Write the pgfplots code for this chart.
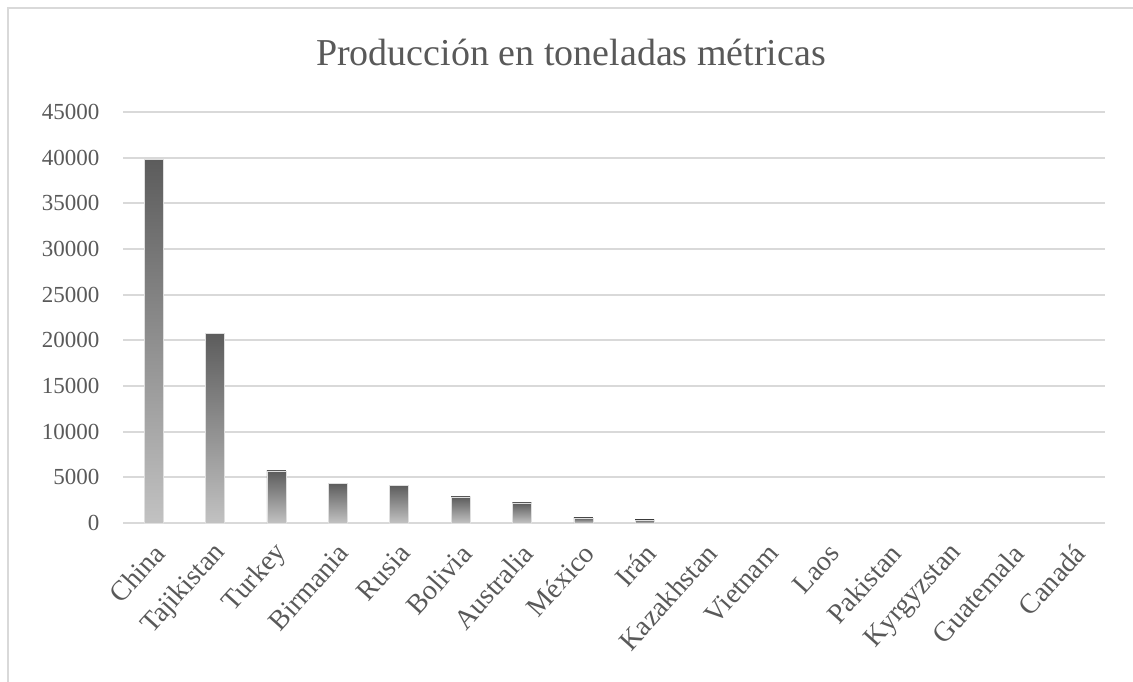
\documentclass[border=0pt]{standalone}
\usepackage{pgfplots}
\pgfplotsset{compat=1.18}
\usepackage{fontspec}
\setmainfont{Liberation Serif}
\definecolor{txt}{HTML}{595959}
\definecolor{gridc}{HTML}{D9D9D9}
\definecolor{bartop}{HTML}{5C5C5C}
\definecolor{barbot}{HTML}{C2C2C2}
\pgfplotsset{gbar/.style={ybar, bar width=19pt, bar shift=0pt, draw=gray!25, line width=0.6pt, top color=bartop, bottom color=barbot, forget plot}}
\begin{document}
\begin{tikzpicture}[x=1pt,y=1pt]
\useasboundingbox (0,0) rectangle (1133,-681);
\draw[gridc, line width=2pt] (8,-760) -- (8,-8) -- (1160,-8);
\node[font=\fontsize{38}{44}\selectfont, text=txt, anchor=base] at (571,-65) {Producción en toneladas métricas};
\begin{axis}[
  at={(123pt,-523pt)}, anchor=south west,
  scale only axis, width=982pt, height=411pt,
  xmin=-0.5, xmax=15.5, ymin=0, ymax=45000,
  ytick={0,5000,...,45000},
  xtick={0,...,15},
  xticklabels={China,Tajikistan,Turkey,Birmania,Rusia,Bolivia,Australia,México,Irán,Kazakhstan,Vietnam,Laos,Pakistan,Kyrgyzstan,Guatemala,Canadá},
  axis line style={draw=none},
  tick style={draw=none},
  major tick length=0pt,
  ymajorgrids,
  grid style={gridc, line width=1.8pt},
  scaled y ticks=false,
  /pgf/number format/1000 sep={},
  /pgf/number format/assume math mode=true,
  yticklabel style={font=\fontsize{23}{28}\selectfont, text=txt, anchor=east, xshift=-20pt},
  xticklabel style={font=\fontsize{28}{32}\selectfont, text=txt, xshift=8pt, yshift=-23pt, rotate=48, anchor=east},
]
\addplot[gbar] coordinates {(0,39800)};
\addplot[gbar] coordinates {(1,20800)};
\addplot[gbar] coordinates {(2,5700)};
\addplot[gbar] coordinates {(3,4350)};
\addplot[gbar] coordinates {(4,4150)};
\addplot[gbar] coordinates {(5,2850)};
\addplot[gbar] coordinates {(6,2200)};
\addplot[gbar] coordinates {(7,550)};
\addplot[gbar] coordinates {(8,330)};
\end{axis}
\end{tikzpicture}
\end{document}
